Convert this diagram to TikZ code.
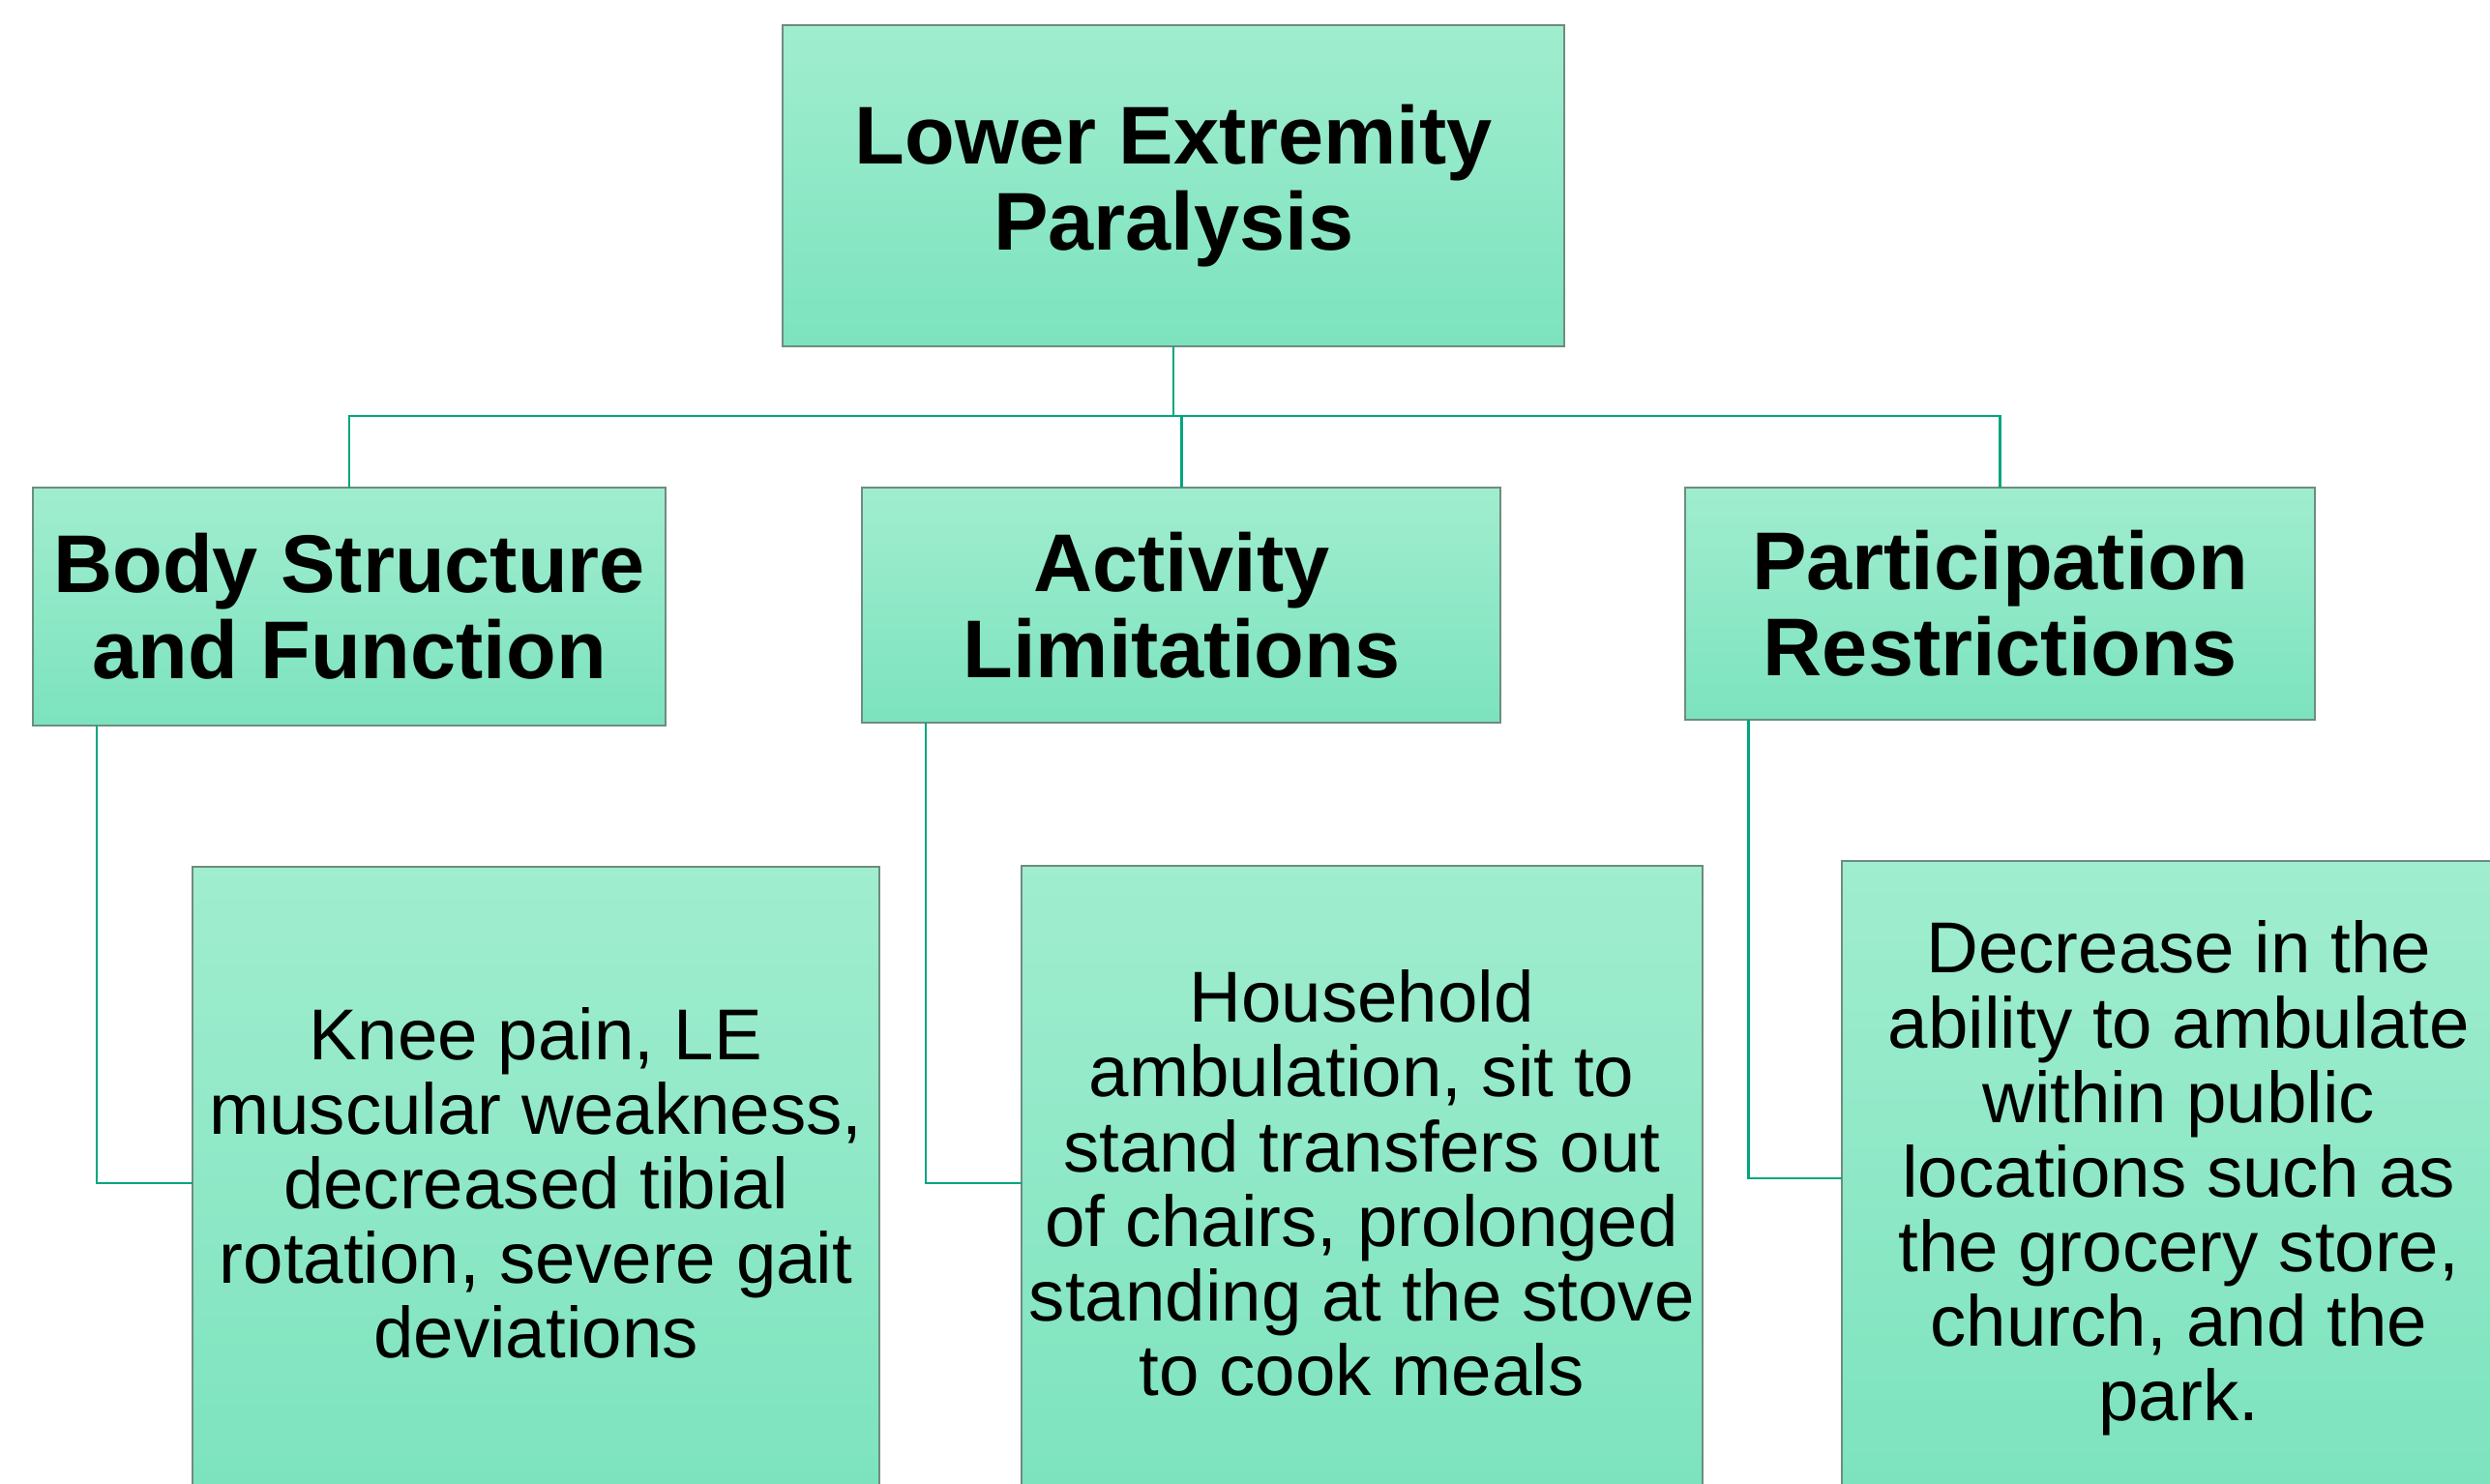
\documentclass[tikz,border=0pt]{standalone}
\usepackage{fontspec}
\setmainfont{Liberation Sans}
\definecolor{boxtop}{RGB}{160, 237, 207}
\definecolor{boxbot}{RGB}{124, 227, 190}
\definecolor{boxedge}{RGB}{110, 140, 128}
\definecolor{linkgreen}{RGB}{0, 166, 126}
\usepackage{tikz}
\usetikzlibrary{positioning}

\tikzset{
  icfbox/.style={draw=boxedge, line width=0.6pt, top color=boxtop, bottom color=boxbot,
    anchor=north west, inner sep=0pt, outer sep=0pt, align=center},
  headtext/.style={font=\fontsize{25.8pt}{27.1pt}\selectfont\bfseries},
  itemtext/.style={font=\fontsize{22.7pt}{23.5pt}\selectfont},
  link/.style={draw=linkgreen, line width=0.75pt}
}

\begin{document}
\begin{tikzpicture}[x=0.5pt, y=-0.5pt]
  \path[use as bounding box, clip] (0,0) rectangle (1568,934);
  \fill[white] (0,0) rectangle (1568,934);

  % top and category boxes
  \node[icfbox, headtext, minimum width=246pt, minimum height=101pt] (lep) at (493,16)
    {Lower Extremity\\Paralysis};
  \node[icfbox, headtext, minimum width=199pt, minimum height=75pt] (body) at (21,307)
    {Body Structure\\and Function};
  \node[icfbox, headtext, minimum width=201pt, minimum height=74pt] (act) at (543,307)
    {Activity\\Limitations};
  \node[icfbox, headtext, minimum width=198.5pt, minimum height=73pt] (part) at (1061,307)
    {Participation\\Restrictions};

  % detail boxes
  \node[icfbox, itemtext, minimum width=216.5pt, minimum height=199pt] (knee) at (121,546)
    {Knee pain, LE\\muscular weakness,\\decreased tibial\\rotation, severe gait\\deviations};
  \node[icfbox, itemtext, minimum width=214.5pt, minimum height=200pt] (house) at (643,545)
    {Household\\ambulation, sit to\\stand transfers out\\of chairs, prolonged\\standing at the stove\\to cook meals};
  \node[icfbox, itemtext, minimum width=212pt, minimum height=200pt] (decr) at (1160,542)
    {Decrease in the\\ability to ambulate\\within public\\locations such as\\the grocery store,\\church, and the\\park.};

  % connectors
  \coordinate (bus) at (0,262);
  \draw[link] (lep.south) -- (lep.south |- bus);
  \draw[link] (body.north) -- (body.north |- bus) -- (part.north |- bus) -- (part.north);
  \draw[link] (act.north) -- (act.north |- bus);
  \draw[link] ([xshift=20pt]body.south west) |- (knee.west);
  \draw[link] ([xshift=20pt]act.south west) |- (house.west);
  \draw[link] ([xshift=20pt]part.south west) |- (decr.west);
\end{tikzpicture}
\end{document}
